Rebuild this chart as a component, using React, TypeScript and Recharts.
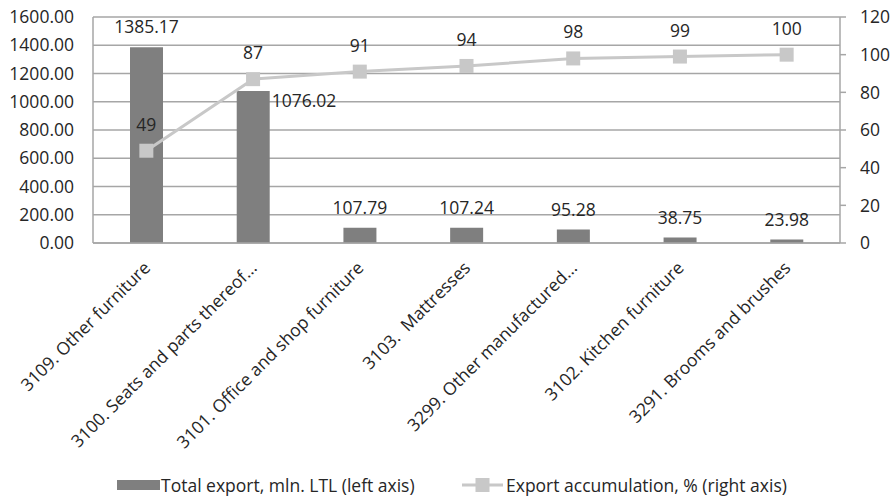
import React from "react";
import {
  Bar,
  CartesianGrid,
  ComposedChart,
  LabelList,
  Legend,
  Line,
  XAxis,
  YAxis,
} from "recharts";

const categories = [
  "3109. Other furniture",
  "3100. Seats and parts thereof...",
  "3101. Office and shop furniture",
  "3103.  Mattresses",
  "3299. Other manufactured...",
  "3102. Kitchen furniture",
  "3291. Brooms and brushes",
];
const totalExport = [1385.17, 1076.02, 107.79, 107.24, 95.28, 38.75, 23.98];
const accumulation = [49, 87, 91, 94, 98, 99, 100];
const leftTicks = [0, 200, 400, 600, 800, 1000, 1200, 1400, 1600];
const rightTicks = [0, 20, 40, 60, 80, 100, 120];

const data = categories.map((name, i) => ({
  name,
  total: totalExport[i],
  accum: accumulation[i],
}));

const FONT = "'Open Sans', sans-serif";
const SIZE = 17.5;
const TEXT = "#262626";
const GRID = "#a6a6a6";
const BAR = "#7f7f7f";
const LINE = "#c8c8c8";

const CategoryTick = (props: any) => {
  const { x, y, payload } = props;
  return (
    <g transform={`translate(${x + 5},${y + 24})`}>
      <text
        x={0}
        y={0}
        textAnchor="end"
        transform="rotate(-45)"
        fontFamily={FONT}
        fontSize={SIZE}
        fill={TEXT}
        style={{ whiteSpace: "pre" }}
      >
        {payload.value}
      </text>
    </g>
  );
};

// value labels on bars; the second one sits beside its bar so it clears the line label
const BarValue = (props: any) => {
  const { x, y, width, value, index } = props;
  if (index === 1) {
    return (
      <text x={x + width + 2} y={y + 16} textAnchor="start" fontFamily={FONT} fontSize={SIZE} fill={TEXT}>
        {value.toFixed(2)}
      </text>
    );
  }
  return (
    <text x={x + width / 2} y={y - 14} textAnchor="middle" fontFamily={FONT} fontSize={SIZE} fill={TEXT}>
      {value.toFixed(2)}
    </text>
  );
};

const LineValue = (props: any) => {
  const { x, y, value } = props;
  return (
    <text x={x} y={y - 20} textAnchor="middle" fontFamily={FONT} fontSize={SIZE} fill={TEXT}>
      {value}
    </text>
  );
};

const SquareDot = (props: any) => {
  const { cx, cy } = props;
  return <rect x={cx - 7} y={cy - 7} width={14} height={14} fill={LINE} />;
};

const LegendContent = () => (
  <div style={{ position: "relative", height: 26, fontFamily: FONT, fontSize: SIZE, color: TEXT }}>
    <div style={{ position: "absolute", left: 117, top: 0, display: "flex", alignItems: "center", height: 26 }}>
      <div style={{ width: 43, height: 10, background: BAR, marginRight: 1 }} />
      <span>Total export, mln. LTL (left axis)</span>
    </div>
    <div style={{ position: "absolute", left: 462, top: 0, display: "flex", alignItems: "center", height: 26 }}>
      <svg width={41} height={14} style={{ marginRight: 3 }}>
        <line x1={0} y1={7} x2={41} y2={7} stroke={LINE} strokeWidth={3} />
        <rect x={13.5} y={0} width={14} height={14} fill={LINE} />
      </svg>
      <span>Export accumulation, % (right axis)</span>
    </div>
  </div>
);

export default function App() {
  return (
    <div style={{ position: "absolute", left: 0, top: 0, background: "#fff" }}>
      <ComposedChart
        width={891}
        height={498}
        data={data}
        margin={{ top: 17, right: 0, left: 0, bottom: 0 }}
      >
        <CartesianGrid vertical={false} stroke={GRID} strokeWidth={1.5} yAxisId="left" />
        <XAxis
          dataKey="name"
          interval={0}
          height={229}
          tickLine={false}
          tickSize={0}
          tick={<CategoryTick />}
          axisLine={{ stroke: GRID, strokeWidth: 1.5 }}
        />
        <YAxis
          yAxisId="left"
          width={93}
          domain={[0, 1600]}
          ticks={leftTicks}
          tickFormatter={(v: number) => v.toFixed(2)}
          tickLine={false}
          tickMargin={13}
          axisLine={{ stroke: GRID, strokeWidth: 1.5 }}
          tick={{ fontFamily: FONT, fontSize: SIZE, fill: TEXT }}
        />
        <YAxis
          yAxisId="right"
          orientation="right"
          width={51}
          domain={[0, 120]}
          ticks={rightTicks}
          tickSize={6}
          tickMargin={14}
          tickLine={{ stroke: GRID, strokeWidth: 1.5 }}
          axisLine={{ stroke: GRID, strokeWidth: 1.5 }}
          tick={{ fontFamily: FONT, fontSize: SIZE, fill: TEXT, textAnchor: "start" }}
        />
        <Bar yAxisId="left" dataKey="total" fill={BAR} barSize={33} isAnimationActive={false}>
          <LabelList dataKey="total" content={<BarValue />} />
        </Bar>
        <Line
          yAxisId="right"
          dataKey="accum"
          stroke={LINE}
          strokeWidth={3}
          dot={<SquareDot />}
          activeDot={false}
          isAnimationActive={false}
        >
          <LabelList dataKey="accum" content={<LineValue />} />
        </Line>
        <Legend verticalAlign="bottom" content={<LegendContent />} />
      </ComposedChart>
    </div>
  );
}
